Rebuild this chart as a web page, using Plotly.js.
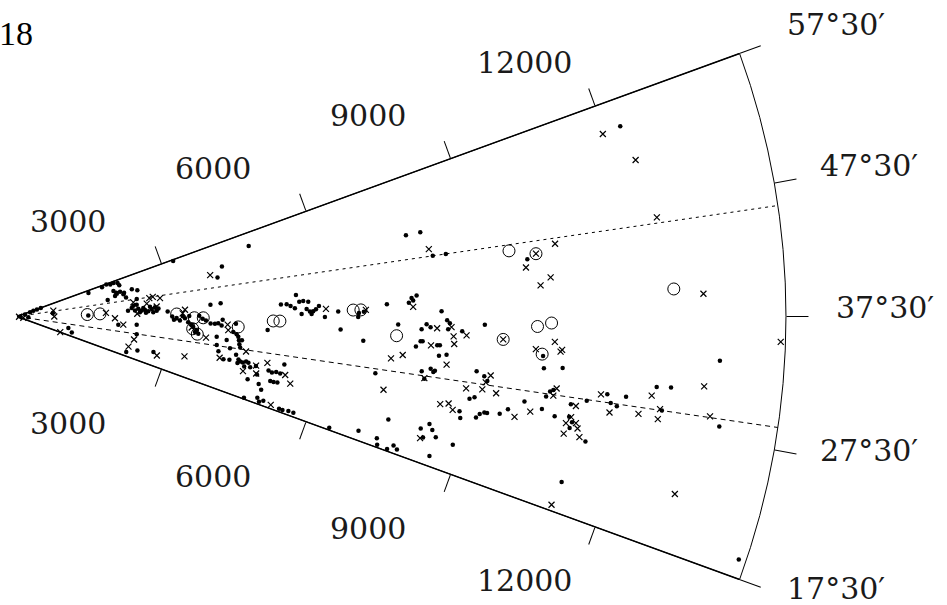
<!DOCTYPE html>
<html>
<head>
<meta charset="utf-8">
<script src="https://cdn.plot.ly/plotly-3.0.1.min.js"></script>
<style>html,body{margin:0;padding:0;background:#fff;}#chart{width:947px;height:605px;}</style>
</head>
<body>
<div id="chart"></div>
<script>
// ---- data: velocity cz (km/s) and declination (deg) ----
const dotCz = [60,267,339,412,492,221,160,700,1026,1113,1390,1982,2340,2360,2240,2441,2750,
 1467,1753,1849,1923,1993,2067,1989,2067,2139,2301,2402,1798,2159,2360,1997,1945,2120,2085,1954,
 2243,2304,2370,2434,2500,2562,2631,2697,2278,2346,2399,2469,2601,2727,2659,2168,2516,2764,
 3233,4114,3984,3780,3980,4723,
 2940,3028,3062,3114,3179,3231,3276,3360,3340,3410,3444,3515,3552,3485,3555,3621,3686,3915,3779,3863,3927,3995,4012,4273,4229,4298,4334,4354,4370,4395,4201,4115,3935,4338,4400,4440,4495,4554,4604,4394,4661,3987,4112,4228,4815,4412,4537,4655,
 5457,5153,5265,5340,5423,5513,5591,5688,5651,5714,5778,5833,5893,5552,5747,6006,6266,6317,4896,6670,6767,6655,7219,7648,7705,7734,7805,8282,6771,7437,7896,7991,8070,8391,8445,8414,8689,9127,7887,7927,8216,8268,7803,8266,8412,7966,8133,8192,8220,7077,9029,9189,4759,5018,5091,5170,5252,5299,
 4894,4972,5097,5164,5239,4702,4949,5004,5078,5419,5489,5605,5708,6465,7024,7410,7457,7667,7763,7852,7517,8172,8314,8399,8502,8265,8493,8861,8828,8870,8037,9260,8971,9062,9167,9224,9306,9360,9605,
 12338,10017,10291,10327,10691,13738,9746,10036,10397,10666,10501,10560,10438,10939,11234,10947,11021,10996,11353,11614,11704,11830,11983,12554,12833,12712,13866,11103,14855,
 7750,8036,8196,8453];
const dotDec = [37.5,55.4,57.0,57.0,57.0,34.0,52.0,42.7,24.9,21.3,38.3,32.9,33.6,29.1,19.5,21.7,22.9,
 55.7,56.5,57.2,56.4,56.6,55.9,51.0,51.0,50.0,50.8,49.8,47.8,47.4,45.8,50.4,52.3,49.3,54.5,49.3,
 41.8,40.4,41.1,40.2,40.4,39.8,40.7,41.3,42.8,43.1,39.5,41.4,41.7,39.9,39.3,40.5,39.2,40.7,
 57.1,51.2,48.5,41.0,41.2,54.4,
 39.4,37.5,36.3,37.0,36.1,37.7,36.9,37.7,35.6,34.8,34.1,33.1,32.1,32.5,37.7,36.8,36.3,31.7,35.4,35.4,35.6,35.0,36.6,35.6,33.4,32.9,32.3,31.4,30.4,29.6,29.0,31.1,29.4,27.6,26.5,26.1,26.0,26.4,26.2,25.6,22.3,27.7,25.8,26.0,23.9,31.5,25.1,25.2,
 41.9,40.1,40.1,39.7,39.2,40.5,40.6,40.4,39.0,38.5,38.5,38.9,39.5,38.0,38.0,37.4,38.4,35.2,34.4,38.1,38.3,37.4,39.4,39.5,40.2,39.8,40.5,38.2,33.5,36.3,35.7,36.4,36.0,37.0,36.6,35.8,35.6,36.5,34.0,34.0,33.6,33.6,33.2,32.2,32.4,29.8,30.3,29.9,30.1,28.5,30.7,30.2,25.8,25.4,25.1,25.4,25.3,27.3,
 21.9,20.8,23.2,23.2,23.3,17.8,18.8,18.1,18.6,18.1,18.1,18.3,18.3,17.9,19.0,18.8,17.9,17.8,18.6,18.2,22.0,22.0,22.9,22.2,21.4,20.9,18.8,21.1,25.4,24.6,28.8,29.7,27.2,27.5,25.1,25.6,25.9,25.9,26.1,
 55.0,43.9,33.2,31.9,32.1,33.9,26.8,28.0,27.5,27.0,29.5,29.7,28.9,28.5,29.1,27.2,26.7,26.1,25.1,30.0,29.2,29.0,30.0,31.2,31.3,29.2,28.6,20.6,18.9,
 49.3,49.3,45.8,45.8];

const crossCz = [40,125,717,727,897,1736,1911,2079,2326,2252,2832,3358,2285,2605,2812,2543,2346,2731,2675,3853,3279,3232,3414,3710,4112,4129,4519,4535,4033,4761,6028,6806,7730,8198,8479,8525,8777,8545,8095,7341,7561,8432,8036,9311,4967,4796,5354,5488,5241,7290,8213,8430,8588,8691,9233,8872,9187,9465,11969,12447,12630,10591,9974,10437,10231,13397,10503,10141,10653,10625,9900,10182,10620,10575,11041,10986,10908,11099,11150,10906,11220,11492,11708,12476,13473,12270,12659,12673,13658,11054,13291,14906,8140];
const crossDec = [30.0,26.3,46.7,37.5,17.6,39.8,36.5,33.1,26.4,22.4,21.9,24.1,44.4,45.4,44.8,43.2,38.8,41.6,45.7,49.6,39.8,38.6,33.9,31.1,35.3,33.8,28.8,23.9,26.0,25.9,38.9,38.6,38.9,35.9,36.1,34.9,35.1,33.9,33.5,31.1,31.8,31.1,28.9,30.4,27.0,24.1,25.2,23.7,18.3,26.2,20.7,25.8,26.1,25.4,29.5,28.4,28.6,28.4,54.8,51.7,46.3,45.2,43.0,41.7,40.9,39.4,34.8,33.9,34.0,33.8,26.1,27.0,29.9,29.1,28.4,27.2,26.5,26.7,26.2,25.4,25.4,29.9,28.3,30.4,31.7,28.6,28.4,29.3,29.3,18.1,22.4,35.6,46.8];

const circCz  = [1371,1619,3115,3458,3633,3435,3533,4320,4999,5129,6559,6709,7414,9682,12823,10155,10428,10270];
const circDec = [39.1,39.3,38.4,37.1,37.1,33.5,31.9,34.8,36.5,36.5,38.6,38.6,34.6,45.1,39.9,36.4,36.8,33.4];

const circXCz  = [10197,9494];
const circXDec = [44.4,34.8];

const boundaryDec = [45.8, 29.2];
const velMax = 15000;
const velTicks = [3000,6000,9000,12000];
const decTicks = [57.5,47.5,37.5,27.5,17.5];
const decLabels = ["57°30′","47°30′","37°30′","27°30′","17°30′"];
const figLabel = "18";

// ---- traces ----
const traces = [];
traces.push({type:'scatterpolar', subplot:'polar', mode:'lines', r:[0,velMax], theta:[boundaryDec[0],boundaryDec[0]],
  line:{color:'black', width:1, dash:'3px,4px'}, hoverinfo:'skip'});
traces.push({type:'scatterpolar', subplot:'polar', mode:'lines', r:[0,velMax], theta:[boundaryDec[1],boundaryDec[1]],
  line:{color:'black', width:1, dash:'5px,4px'}, hoverinfo:'skip'});
traces.push({type:'scatterpolar', subplot:'polar', mode:'markers', r:circCz, theta:circDec,
  marker:{symbol:'circle-open', size:12, color:'black', line:{width:1, color:'black'}}});
traces.push({type:'scatterpolar', subplot:'polar', mode:'markers', r:circXCz, theta:circXDec,
  marker:{symbol:'circle-open', size:12, color:'black', line:{width:1, color:'black'}}});
traces.push({type:'scatterpolar', subplot:'polar', mode:'markers', r:circXCz, theta:circXDec,
  marker:{symbol:'x-thin', size:6, color:'black', line:{width:1.2, color:'black'}}});
traces.push({type:'scatterpolar', subplot:'polar', mode:'markers', r:crossCz, theta:crossDec,
  marker:{symbol:'x-thin', size:6, color:'black', line:{width:1.2, color:'black'}}});
traces.push({type:'scatterpolar', subplot:'polar', mode:'markers', r:dotCz, theta:dotDec,
  marker:{symbol:'circle', size:4.5, color:'black', line:{width:0}}});
traces.push({type:'scatterpolar', subplot:'polar2', mode:'markers', r:[0], theta:[37.5],
  marker:{size:1, color:'rgba(0,0,0,0)'}, hoverinfo:'skip'});

const dom = {x:[17/947, 786/947], y:[1-579.5/605, 1-53.5/605]};
const radialCommon = {range:[0,velMax], tickvals:velTicks, ticks:'outside', ticklen:18, tickwidth:1,
  tickcolor:'black', showticklabels:false, showline:true, linecolor:'black', linewidth:1.4, showgrid:false};

const layout = {
  width:947, height:605, margin:{l:0,r:0,t:0,b:0}, paper_bgcolor:'white', showlegend:false,
  font:{family:'DejaVu Serif', color:'black'},
  polar:{domain:dom, sector:[-20,20], bgcolor:'rgba(0,0,0,0)',
    radialaxis:Object.assign({angle:20, side:'counterclockwise'}, radialCommon),
    angularaxis:{rotation:-37.5, direction:'counterclockwise', tickvals:decTicks, ticks:'outside', ticklen:22,
      tickwidth:1, tickcolor:'black', showticklabels:false, showline:true, linecolor:'black', linewidth:1, showgrid:false}},
  polar2:{domain:dom, sector:[-20,20], bgcolor:'rgba(0,0,0,0)',
    radialaxis:Object.assign({angle:-20, side:'clockwise'}, radialCommon),
    angularaxis:{rotation:-37.5, direction:'counterclockwise', showline:false, ticks:'', showticklabels:false, showgrid:false}},
  annotations:[]
};

function px(x,y){return {x:x/947, y:1-y/605};}
const topPos = [[68,221],[213,168],[368,115],[524,63]];
const botPos = [[68,423],[213,476],[368,528],[524,580]];
velTicks.forEach((v,i)=>{
  [topPos[i], botPos[i]].forEach(p=>{
    const q = px(p[0],p[1]);
    layout.annotations.push({text:String(v), x:q.x, y:q.y, xref:'paper', yref:'paper', xanchor:'center', yanchor:'middle',
      showarrow:false, font:{family:'DejaVu Serif', size:30, color:'#1a1a1a'}});
  });
});
const angPos = [[836,25],[869,165],[885,308],[869,450],[836,588]];
decLabels.forEach((t,i)=>{
  const q = px(angPos[i][0], angPos[i][1]);
  layout.annotations.push({text:t, x:q.x, y:q.y, xref:'paper', yref:'paper', xanchor:'center', yanchor:'middle',
    showarrow:false, font:{family:'DejaVu Serif', size:30, color:'#1a1a1a'}});
});
{
  const q = px(35, 34);
  layout.annotations.push({text:figLabel, x:q.x, y:q.y, xref:'paper', yref:'paper', xanchor:'right', yanchor:'middle',
    showarrow:false, font:{family:'Liberation Serif', size:34, color:'black'}});
}

Plotly.newPlot('chart', traces, layout, {staticPlot:true, displayModeBar:false});
</script>
</body>
</html>
